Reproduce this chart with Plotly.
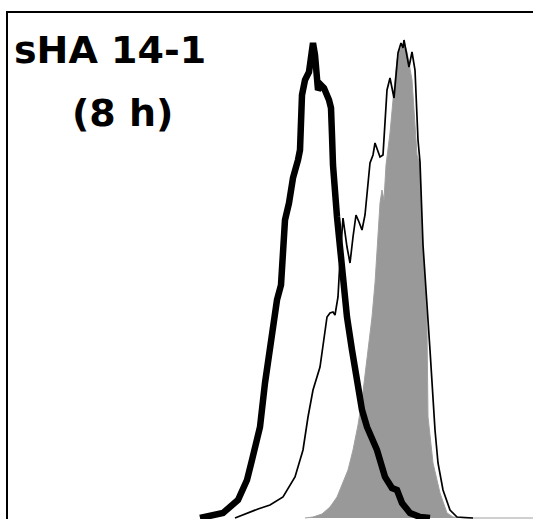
import plotly.graph_objects as go

# Histogram traces (channel, count)
thick_x = [192, 204, 215, 230, 239, 244, 249, 252, 257, 262, 266, 269, 273, 275, 277, 281, 285, 290, 292, 294, 297, 301, 303, 305, 307, 308, 310, 313, 316, 321, 323, 324, 325, 329, 332, 335, 339, 344, 350, 354, 359, 369, 377, 384, 389, 394, 402, 412, 422]
thick_y = [0, 2, 5, 18, 38, 58, 78, 91, 135, 175, 203, 218, 233, 258, 298, 315, 340, 358, 368, 423, 438, 446, 463, 475, 463, 446, 428, 433, 430, 418, 410, 383, 353, 301, 268, 235, 201, 168, 128, 108, 91, 68, 41, 30, 28, 15, 5, 1, 0]

thin_x = [227, 239, 250, 262, 275, 287, 295, 300, 305, 312, 317, 319, 322, 325, 327, 330, 332, 335, 339, 342, 345, 348, 351, 354, 357, 360, 362, 365, 367, 372, 375, 379, 382, 386, 390, 393, 395, 396, 399, 401, 404, 407, 410, 412, 415, 419, 422, 427, 430, 435, 442, 449, 465]
thin_y = [0, 5, 9, 13, 21, 41, 68, 101, 128, 151, 185, 201, 205, 206, 203, 221, 258, 300, 271, 255, 281, 303, 296, 288, 303, 335, 355, 363, 375, 361, 363, 428, 440, 420, 465, 475, 470, 478, 463, 451, 466, 448, 378, 356, 273, 218, 168, 88, 55, 28, 8, 1, 0]

gray_x = [297, 305, 314, 322, 329, 335, 340, 345, 350, 354, 359, 364, 367, 370, 372, 374, 376, 378, 380, 382, 385, 389, 392, 394, 396, 399, 401, 404, 407, 409, 412, 414, 417, 419, 420, 425, 432, 439, 445, 457, 525]
gray_y = [0, 1, 4, 11, 21, 35, 48, 68, 93, 118, 158, 201, 235, 281, 315, 328, 318, 353, 368, 385, 418, 458, 468, 473, 476, 466, 455, 438, 393, 363, 353, 285, 235, 188, 101, 55, 25, 5, 1, 0, 0]

title_line1 = "sHA 14-1"
title_line2 = "(8 h)"

fig = go.Figure()
fig.add_trace(go.Scatter(x=gray_x, y=gray_y, mode="lines", fill="tozeroy",
                         fillcolor="#999999", line=dict(color="#a0a0a0", width=1),
                         hoverinfo="skip"))
fig.add_trace(go.Scatter(x=thin_x, y=thin_y, mode="lines",
                         line=dict(color="black", width=1.7), hoverinfo="skip"))
fig.add_trace(go.Scatter(x=thick_x, y=thick_y, mode="lines",
                         line=dict(color="black", width=6.5, shape="linear"),
                         hoverinfo="skip"))

fig.add_annotation(x=102, y=468, xref="x", yref="y", text="<b>%s</b>" % title_line1,
                   showarrow=False, xanchor="center", yanchor="middle",
                   font=dict(family="DejaVu Sans", size=38, color="black"))
fig.add_annotation(x=114, y=405, xref="x", yref="y", text="<b>%s</b>" % title_line2,
                   showarrow=False, xanchor="center", yanchor="middle",
                   font=dict(family="DejaVu Sans", size=38, color="black"))

fig.update_layout(
    width=533, height=519,
    margin=dict(l=8, r=0, t=13, b=0),
    paper_bgcolor="white", plot_bgcolor="white",
    showlegend=False,
    xaxis=dict(range=[0, 525], side="top", showline=True, linecolor="black", linewidth=2,
               showgrid=False, zeroline=False, showticklabels=False, ticks=""),
    yaxis=dict(range=[-1, 505], showline=True, linecolor="black", linewidth=2,
               showgrid=False, zeroline=False, showticklabels=False, ticks=""),
)

fig.write_html("out.html")
